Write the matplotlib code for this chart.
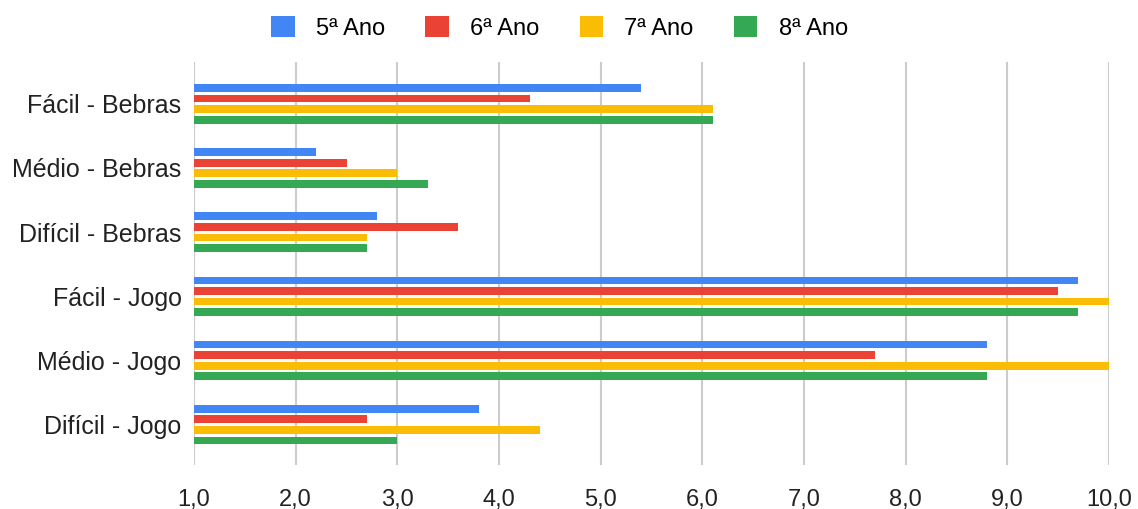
import numpy as np
import matplotlib
matplotlib.use("Agg")
import matplotlib.pyplot as plt
from matplotlib.ticker import FuncFormatter

plt.rcParams['font.family'] = ['Liberation Sans', 'DejaVu Sans']

categorias = ['Fácil - Bebras', 'Médio - Bebras', 'Difícil - Bebras',
              'Fácil - Jogo', 'Médio - Jogo', 'Difícil - Jogo']
series = ['5ª Ano', '6ª Ano', '7ª Ano', '8ª Ano']
ano5 = [5.4, 2.2, 2.8, 9.7, 8.8, 3.8]
ano6 = [4.3, 2.5, 3.6, 9.5, 7.7, 2.7]
ano7 = [6.1, 3.0, 2.7, 10.0, 10.0, 4.4]
ano8 = [6.1, 3.3, 2.7, 9.7, 8.8, 3.0]
cores = ['#4285f4', '#ea4335', '#fbbc04', '#34a853']
xticks = [1, 2, 3, 4, 5, 6, 7, 8, 9, 10]

fig = plt.figure(figsize=(11.38, 5.09), dpi=100)
ax = fig.add_axes([0.1705, 0.0865, 0.804, 0.7915])

y = np.arange(len(categorias))
pitch = 0.165
altura = 0.12
for i, (vals, nome, cor) in enumerate(zip([ano5, ano6, ano7, ano8], series, cores)):
    desl = (i - 1.5) * pitch
    ax.barh(y + desl, np.array(vals) - 1, left=1, height=altura, color=cor, label=nome, zorder=3)

ax.set_xlim(1, 10)
ax.set_ylim(len(categorias) - 1 + 0.63, -0.65)
ax.set_xticks(xticks)
ax.xaxis.set_major_formatter(FuncFormatter(lambda v, p: f'{v:.1f}'.replace('.', ',')))
ax.set_yticks(y)
ax.set_yticklabels(categorias)
ax.tick_params(axis='both', length=0, labelsize=17, colors='#222222')
ax.tick_params(axis='y', labelsize=18, pad=9)
ax.tick_params(axis='x', pad=17)
ax.grid(axis='x', color='#cccccc', linewidth=1.5, zorder=0)
for s in ax.spines.values():
    s.set_visible(False)

fig.legend(loc='upper center', bbox_to_anchor=(0.4917, 1.01), ncol=4, frameon=False,
           fontsize=17, handlelength=1.0, handleheight=1.0, handletextpad=0.9,
           columnspacing=1.7)

fig.savefig('out.png', dpi=100)
